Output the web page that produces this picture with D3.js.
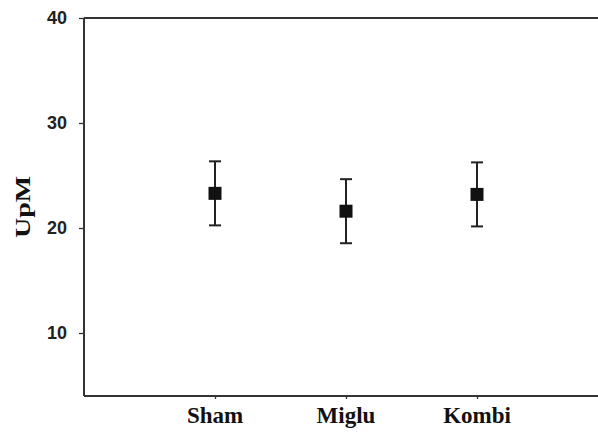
<!DOCTYPE html>
<html lang="en">
<head>
    <meta charset="UTF-8">
    <title>UpM</title>
    <script src="https://cdn.jsdelivr.net/npm/d3@7"></script>
    <style>
        body { margin: 0; background: #fff; }
    </style>
</head>
<body>
<script>
    let width = 598;
    let height = 432;

    // data
    var groups = ["Sham", "Miglu", "Kombi"];
    var means = [23.3, 21.6, 23.2];
    var errs = [3.05, 3.05, 3.05];
    var yTicks = [10, 20, 30, 40];

    // note: "top" is a reserved window property, so use other names
    var padLeft = 84, padTop = 18, padBottom = 396;

    var svg = d3.select("body").append("svg")
        .attr("width", width)
        .attr("height", height);

    var x = d3.scaleLinear().domain([0, 4]).range([padLeft, padLeft + 4 * 131]);
    var y = d3.scaleLinear().domain([4, 40]).range([padBottom, padTop]);

    // top frame line
    svg.append("line")
        .attr("x1", padLeft).attr("x2", width)
        .attr("y1", padTop).attr("y2", padTop)
        .attr("stroke", "#333").attr("stroke-width", 2);

    // y axis
    var yAxis = svg.append("g")
        .attr("transform", "translate(" + padLeft + ",0)")
        .call(d3.axisLeft(y).tickValues(yTicks).tickSize(5).tickPadding(12));
    yAxis.select(".domain").attr("stroke", "#333").attr("stroke-width", 2)
        .attr("d", "M0," + padTop + "V" + padBottom);
    yAxis.selectAll(".tick line").attr("stroke", "#333").attr("stroke-width", 1.3);
    yAxis.selectAll(".tick text")
        .attr("font-family", "Liberation Sans, Arial, sans-serif")
        .attr("font-weight", "bold")
        .attr("font-size", 18)
        .attr("fill", "#222");

    // x axis
    var xAxis = svg.append("g")
        .attr("transform", "translate(0," + padBottom + ")")
        .call(d3.axisBottom(x).tickValues([1, 2, 3]).tickSize(3).tickFormat(""));
    xAxis.select(".domain").attr("stroke", "#333").attr("stroke-width", 2)
        .attr("d", "M" + padLeft + ",0H" + width);
    xAxis.selectAll(".tick line").attr("stroke", "#333").attr("stroke-width", 1.3);

    svg.selectAll(".glabel")
        .data(groups)
        .enter()
        .append("text")
        .attr("class", "glabel")
        .attr("x", function (d, i) { return x(i + 1); })
        .attr("y", 423)
        .attr("text-anchor", "middle")
        .attr("font-family", "Liberation Serif, Times New Roman, serif")
        .attr("font-weight", "bold")
        .attr("font-size", 23)
        .attr("fill", "#111")
        .text(function (d) { return d; });

    // y label
    svg.append("text")
        .attr("transform", "translate(30,207) rotate(-90)")
        .attr("text-anchor", "middle")
        .attr("font-family", "Liberation Serif, Times New Roman, serif")
        .attr("font-weight", "bold")
        .attr("font-size", 22)
        .attr("textLength", 62)
        .attr("lengthAdjust", "spacingAndGlyphs")
        .attr("fill", "#111")
        .text("UpM");

    // error bars
    var pts = svg.selectAll(".pt")
        .data(means)
        .enter()
        .append("g")
        .attr("class", "pt");

    pts.append("line")
        .attr("x1", function (d, i) { return x(i + 1); })
        .attr("x2", function (d, i) { return x(i + 1); })
        .attr("y1", function (d, i) { return y(d + errs[i]); })
        .attr("y2", function (d, i) { return y(d - errs[i]); })
        .attr("stroke", "#222").attr("stroke-width", 2);

    [1, -1].forEach(function (s) {
        pts.append("line")
            .attr("x1", function (d, i) { return x(i + 1) - 6; })
            .attr("x2", function (d, i) { return x(i + 1) + 6; })
            .attr("y1", function (d, i) { return y(d + s * errs[i]); })
            .attr("y2", function (d, i) { return y(d + s * errs[i]); })
            .attr("stroke", "#222").attr("stroke-width", 2);
    });

    pts.append("rect")
        .attr("x", function (d, i) { return x(i + 1) - 6.5; })
        .attr("y", function (d) { return y(d) - 6.5; })
        .attr("width", 13)
        .attr("height", 13)
        .attr("fill", "#111");
</script>
</body>
</html>
